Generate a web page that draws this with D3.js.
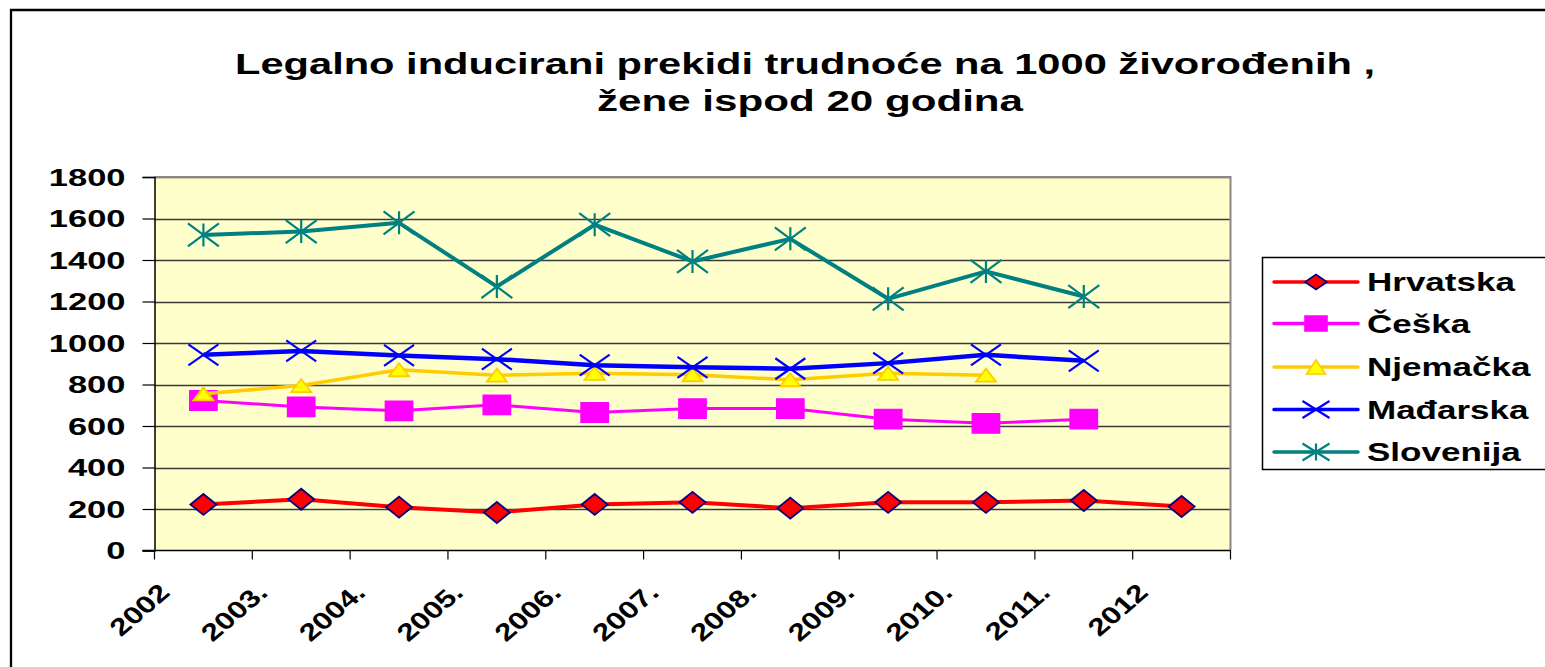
<!DOCTYPE html>
<html>
<head>
<meta charset="utf-8">
<script src="https://cdn.jsdelivr.net/npm/d3@7"></script>
<style>
  html, body { margin: 0; background: #fff; overflow: hidden; }
  svg { display: block; }
  text { font-family: "Liberation Sans", Arial, sans-serif; font-weight: bold; fill: #000; }
</style>
</head>
<body>
<svg id="chart" width="1545" height="667"></svg>
<script>
// ********************** DATA **********************
const years = ["2002", "2003.", "2004.", "2005.", "2006.", "2007.", "2008.", "2009.", "2010.", "2011.", "2012"]
const hrvatska = [222, 247, 209, 183, 222, 232, 204, 232, 232, 241, 212]
const ceska = [723, 692, 673, 702, 665, 684, 684, 633, 613, 633]
const njemacka = [755, 795, 871, 845, 854, 847, 823, 854, 845]
const madarska = [943, 962, 940, 922, 893, 883, 876, 903, 943, 914]
const slovenija = [1521, 1537, 1579, 1272, 1570, 1393, 1502, 1213, 1345, 1224]
const seriesNames = ["Hrvatska", "Češka", "Njemačka", "Mađarska", "Slovenija"]
const yTicks = [0, 200, 400, 600, 800, 1000, 1200, 1400, 1600, 1800]
const titleLines = ["Legalno inducirani prekidi trudnoće na 1000 živorođenih ,", "žene ispod 20 godina"]

// ********************** STYLES **********************
const styles = [
  { values: hrvatska, color: "#ff0000", width: 4, marker: "diamond", fill: "#ff0000", stroke: "#000080", mw: 26, mh: 21, lw: 22, lh: 15 },
  { values: ceska, color: "#ff00ff", width: 3, marker: "square", fill: "#ff00ff", stroke: "#ff00ff", mw: 27, mh: 19, lw: 22, lh: 15 },
  { values: njemacka, color: "#ffcc00", width: 3.5, marker: "triangle", fill: "#ffff00", stroke: "#ffcc00", mw: 20, mh: 13, lw: 19, lh: 14 },
  { values: madarska, color: "#0000ff", width: 4.5, marker: "x", fill: "none", stroke: "#0000ff", mw: 30, mh: 21, lw: 27, lh: 17 },
  { values: slovenija, color: "#008080", width: 4, marker: "star", fill: "none", stroke: "#008080", mw: 31, mh: 23, lw: 27, lh: 17 }
]

function markerPath(type, w, h) {
  let a = w / 2, b = h / 2
  if (type === "diamond") return `M0,${-b}L${a},0L0,${b}L${-a},0Z`
  if (type === "square") return `M${-a},${-b}H${a}V${b}H${-a}Z`
  if (type === "triangle") return `M0,${-b}L${a},${b}L${-a},${b}Z`
  if (type === "x") return `M${-a},${-b}L${a},${b}M${a},${-b}L${-a},${b}`
  return `M${-a},${-b}L${a},${b}M${a},${-b}L${-a},${b}M0,${-b}V${b}`
}

function stretch(sel, k) {
  sel.each(function() {
    let n = this.getComputedTextLength()
    d3.select(this).attr("textLength", n * k).attr("lengthAdjust", "spacingAndGlyphs")
  })
}

// ********************** CHART **********************
let svg = d3.select("#chart")

let plot = { left: 154.5, right: 1230.5, top: 177, bottom: 550.5 }

let x = d3.scaleBand()
  .domain(years)
  .range([plot.left, plot.right])
  .padding(0)

let y = d3.scaleLinear()
  .domain([0, 1800])
  .range([plot.bottom, plot.top])

let cx = function(i) { return x(years[i]) + x.bandwidth() / 2 }

// outer frame (only left and top edges are inside the picture)
svg.append("path")
  .attr("d", "M11,700V10H1560")
  .attr("fill", "none")
  .attr("stroke", "#000")
  .attr("stroke-width", 2.3)

// title
svg.selectAll(".title")
  .data(titleLines)
  .enter()
  .append("text")
  .attr("class", "title")
  .attr("x", function(d, i) { return i === 0 ? 235 : 597 })
  .attr("y", function(d, i) { return i === 0 ? 74 : 111 })
  .attr("font-size", 30)
  .attr("textLength", function(d, i) { return i === 0 ? 1140 : 426 })
  .attr("lengthAdjust", "spacingAndGlyphs")
  .text(function(d) { return d })

// plot background
svg.append("rect")
  .attr("x", plot.left).attr("y", plot.top)
  .attr("width", plot.right - plot.left)
  .attr("height", plot.bottom - plot.top)
  .attr("fill", "#ffffcc")

// gridlines
svg.append("g")
  .selectAll("line")
  .data(yTicks.filter(function(d) { return d > 0 }))
  .enter()
  .append("line")
  .attr("x1", plot.left).attr("x2", plot.right)
  .attr("y1", function(d) { return Math.round(y(d)) + 0.5 })
  .attr("y2", function(d) { return Math.round(y(d)) + 0.5 })
  .attr("stroke", "#3a3a3a")
  .attr("stroke-width", 1.3)

// plot border top/right (grey)
svg.append("path")
  .attr("d", `M${plot.left},${plot.top}H${plot.right}V${plot.bottom}`)
  .attr("fill", "none")
  .attr("stroke", "#888")
  .attr("stroke-width", 2)

// y axis
let yAxis = d3.axisLeft(y)
  .tickValues(yTicks)
  .tickSize(12)
  .tickFormat(d3.format("d"))

let yG = svg.append("g")
  .attr("id", "y-axis")
  .attr("transform", "translate(" + plot.left + ",0)")
  .call(yAxis)

yG.select(".domain").attr("stroke", "#000").attr("stroke-width", 1.5)
yG.selectAll(".tick line").attr("stroke", "#000").attr("stroke-width", 1.2)
yG.selectAll(".tick text")
  .attr("x", -29)
  .attr("dy", "0.36em")
  .attr("font-size", 23)
  .attr("font-family", "Liberation Sans, Arial, sans-serif")
  .attr("font-weight", "bold")
  .attr("fill", "#000")
  .call(stretch, 1.5)

// x axis (ticks between categories)
let xG = svg.append("g").attr("id", "x-axis")

xG.append("line")
  .attr("x1", plot.left - 12).attr("x2", plot.right)
  .attr("y1", plot.bottom).attr("y2", plot.bottom)
  .attr("stroke", "#000")
  .attr("stroke-width", 1.6)

let bounds = years.map(function(d) { return x(d) }).concat([x.range()[1]])

xG.selectAll(".xtick")
  .data(bounds)
  .enter()
  .append("line")
  .attr("class", "xtick")
  .attr("x1", function(d) { return d }).attr("x2", function(d) { return d })
  .attr("y1", plot.bottom).attr("y2", plot.bottom + 9)
  .attr("stroke", "#000")
  .attr("stroke-width", 1.2)

xG.selectAll(".xlabel")
  .data(years)
  .enter()
  .append("text")
  .attr("class", "xlabel")
  .attr("text-anchor", "end")
  .attr("font-size", 24)
  .attr("transform", function(d, i) {
    return "translate(" + (cx(i) - 32) + ",594) scale(1.16,1) rotate(-45)"
  })
  .text(function(d) { return d })
  .call(stretch, 1.15)

// series lines and markers
let line = d3.line()
  .x(function(d, i) { return cx(i) })
  .y(function(d) { return y(d) })

styles.forEach(function(s) {
  let g = svg.append("g")
  g.append("path")
    .datum(s.values)
    .attr("d", line)
    .attr("fill", "none")
    .attr("stroke", s.color)
    .attr("stroke-width", s.width)
    .attr("stroke-linejoin", "round")

  g.selectAll(".pt")
    .data(s.values)
    .enter()
    .append("path")
    .attr("class", "pt")
    .attr("transform", function(d, i) { return "translate(" + cx(i) + "," + y(d) + ")" })
    .attr("d", markerPath(s.marker, s.mw, s.mh))
    .attr("fill", s.fill)
    .attr("stroke", s.stroke)
    .attr("stroke-width", s.marker === "x" || s.marker === "star" ? 2.2 : 1.8)
    .attr("stroke-linejoin", "miter")
})

// legend
let legend = svg.append("g").attr("id", "legend")

legend.append("rect")
  .attr("x", 1262.5).attr("y", 257.5)
  .attr("width", 300).attr("height", 212)
  .attr("fill", "#fff")
  .attr("stroke", "#000")
  .attr("stroke-width", 1.5)

let rowY = [282, 323.5, 367, 409.5, 452]

let item = legend.selectAll(".item")
  .data(styles)
  .enter()
  .append("g")
  .attr("class", "item")
  .attr("transform", function(d, i) { return "translate(0," + rowY[i] + ")" })

item.append("line")
  .attr("x1", 1274).attr("x2", 1358)
  .attr("stroke", function(d) { return d.color })
  .attr("stroke-width", 3.5)
  .attr("stroke-linecap", "round")

item.append("path")
  .attr("transform", "translate(1316,0)")
  .attr("d", function(d) { return markerPath(d.marker, d.lw, d.lh) })
  .attr("fill", function(d) { return d.fill })
  .attr("stroke", function(d) { return d.stroke })
  .attr("stroke-width", function(d) { return d.marker === "x" || d.marker === "star" ? 2.2 : 1.6 })

item.append("text")
  .attr("x", 1367)
  .attr("y", 9)
  .attr("font-size", 25)
  .text(function(d, i) { return seriesNames[i] })
  .call(stretch, 1.4)
</script>
</body>
</html>
